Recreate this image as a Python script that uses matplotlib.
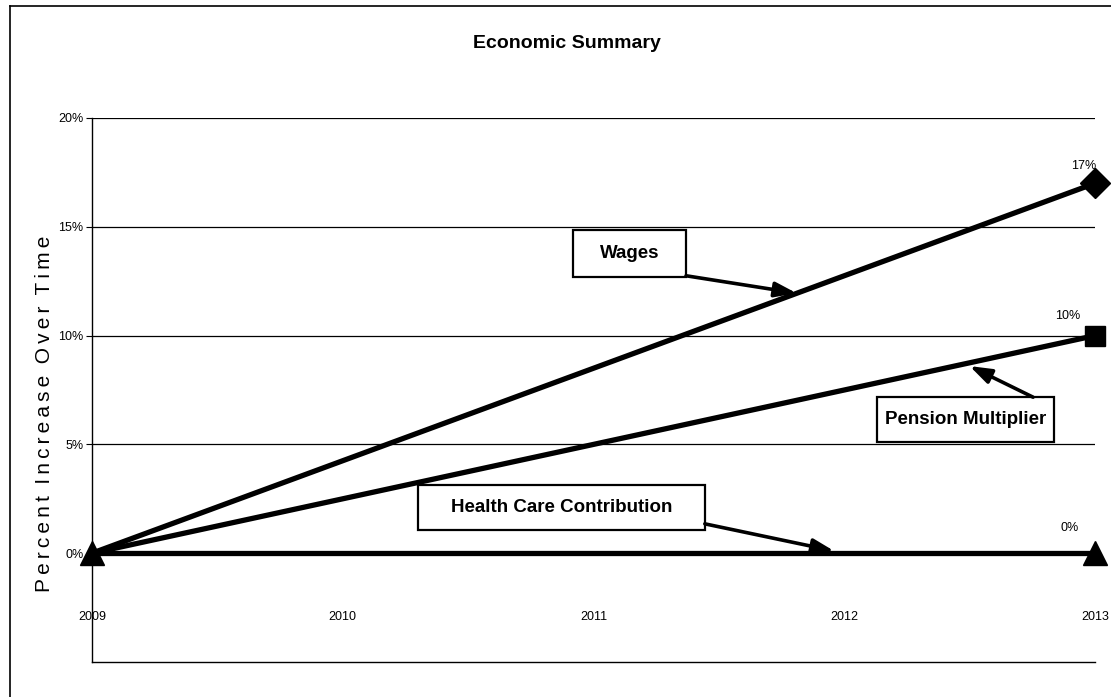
import matplotlib
matplotlib.use("Agg")
import matplotlib.pyplot as plt
from matplotlib.patches import Rectangle
from matplotlib.lines import Line2D
from matplotlib.ticker import PercentFormatter

# data
years = [2009, 2013]
year_ticks = [2009, 2010, 2011, 2012, 2013]
wages = [0, 17]
pension = [0, 10]
health = [0, 0]
y_ticks = [0, 5, 10, 15, 20]

plt.rcParams["font.family"] = ["Liberation Sans Narrow", "Liberation Sans", "DejaVu Sans"]

fig = plt.figure(figsize=(11.11, 6.97), dpi=100)
ax = fig.add_axes([92 / 1111, 35 / 697, 1003 / 1111, 544 / 697])

# series
ax.plot(years, wages, color="black", lw=3.8, marker="D", ms=15,
        markevery=[1], zorder=4, clip_on=False)
ax.plot(years, pension, color="black", lw=3.8, marker="s", ms=15,
        markevery=[1], zorder=4, clip_on=False)
ax.plot(years, health, color="black", lw=3.8, marker="^", ms=17,
        zorder=5, clip_on=False)

# end labels
for s, dx, dy in [(wages, -8, 8), (pension, -20, 10), (health, -18, 14)]:
    ax.annotate(f"{s[-1]}%", (years[-1], s[-1]), xytext=(dx, dy),
                textcoords="offset points", ha="center", va="bottom", fontsize=9)

ax.set_xlim(2009, 2013)
ax.set_ylim(-5, 20)
ax.set_yticks(y_ticks)
ax.yaxis.set_major_formatter(PercentFormatter(decimals=0))
ax.set_xticks(year_ticks)
ax.set_xticklabels([str(y) for y in year_ticks])
ax.tick_params(axis="x", length=0, pad=-37, labelsize=9)
ax.tick_params(axis="y", length=4, width=0.8, labelsize=9, pad=2)
ax.grid(axis="y", color="black", lw=0.9)
ax.set_axisbelow(True)
for side in ["top", "right"]:
    ax.spines[side].set_visible(False)
ax.spines["left"].set_linewidth(1.0)
ax.spines["bottom"].set_linewidth(1.0)

# callout boxes: (label, x0, x1, y0, y1, arrow tail, arrow tip)
callouts = [
    ("Wages", 2010.918, 2011.369, 12.69, 14.85, (2011.369, 12.75), (2011.81, 11.95)),
    ("Pension Multiplier", 2012.131, 2012.837, 5.1, 7.17, (2012.753, 7.17), (2012.50, 8.6)),
    ("Health Care Contribution", 2010.30, 2011.444, 1.06, 3.13, (2011.444, 1.35), (2011.96, 0.1)),
]
for label, x0, x1, y0, y1, tail, tip in callouts:
    ax.add_patch(Rectangle((x0, y0), x1 - x0, y1 - y0, facecolor="white",
                           edgecolor="black", lw=1.6, zorder=6))
    ax.text((x0 + x1) / 2, (y0 + y1) / 2, label, ha="center", va="center",
            fontsize=13.5, fontweight="bold", zorder=7)
    ax.annotate("", xy=tip, xytext=tail, zorder=6,
                arrowprops=dict(arrowstyle="-|>,head_length=1.3,head_width=0.45",
                                color="black", lw=2.6, shrinkA=0, shrinkB=0))

fig.text(567 / 1111, 1 - 43 / 697, "Economic Summary", ha="center", va="center",
         fontsize=14, fontweight="bold")
thin = "\u2009"
fig.text(45 / 1111, 1 - 414 / 697,
         "  ".join(thin.join(w) for w in ["Percent", "Increase", "Over", "Time"]),
         rotation=90, ha="center", va="center", fontsize=15,
         family=["Liberation Sans", "DejaVu Sans"])

# outer chart border
fig.add_artist(Line2D([10 / 1111, 10 / 1111], [0, 1 - 6 / 697], color="black", lw=1.2))
fig.add_artist(Line2D([10 / 1111, 1], [1 - 6 / 697, 1 - 6 / 697], color="black", lw=1.2))

fig.savefig("out.png", dpi=100)
